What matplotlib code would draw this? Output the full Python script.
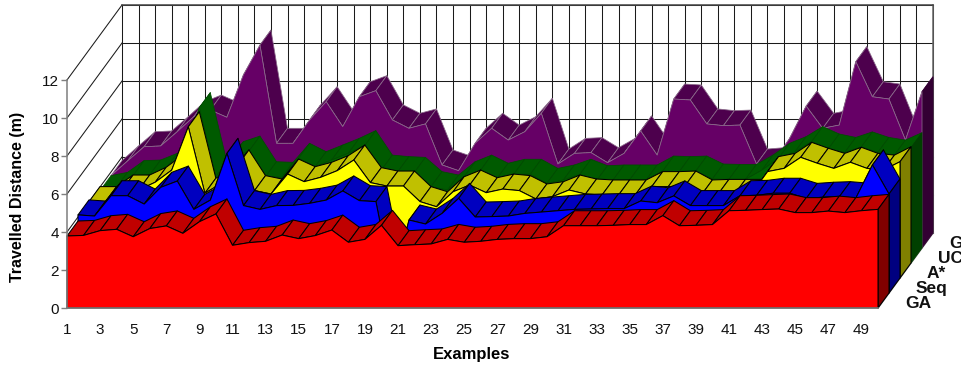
import matplotlib
matplotlib.use("Agg")
import matplotlib.pyplot as plt
import numpy as np

plt.rcParams['font.family'] = ['Liberation Sans', 'DejaVu Sans']

examples = list(range(1, 51))
ga = [3.79,3.82,4.07,4.14,3.75,4.18,4.32,3.93,4.54,4.95,3.30,3.44,3.51,3.84,3.65,3.81,4.10,3.46,3.61,4.35,
      3.28,3.33,3.37,3.61,3.46,3.51,3.61,3.65,3.65,3.75,4.33,4.33,4.33,4.35,4.39,4.39,4.86,4.33,4.35,4.39,
      5.12,5.14,5.18,5.21,5.02,5.02,5.10,5.02,5.12,5.19]
seq = [4.11,4.05,5.12,5.12,4.68,5.56,5.89,4.40,4.89,7.35,4.60,4.40,4.60,4.61,4.72,4.89,5.37,4.86,4.81,0.40,
       3.84,3.63,4.19,4.98,4.00,4.02,4.05,4.19,4.26,4.33,4.40,4.42,4.44,4.44,4.84,4.75,5.11,4.60,4.60,4.60,
       5.12,5.14,5.25,5.25,4.98,5.04,5.07,5.00,6.74,5.21]
astar = [4.02,4.02,4.63,4.63,5.04,5.68,7.96,4.46,4.98,5.95,4.60,4.42,5.47,5.07,5.30,5.65,6.21,5.02,4.84,4.84,
         4.02,3.75,4.54,4.89,4.49,4.68,4.60,4.16,4.28,4.63,4.42,4.37,4.37,4.37,4.81,4.81,4.84,4.37,4.40,4.40,
         4.40,5.60,5.77,6.35,6.04,5.77,6.09,5.77,5.68,6.12]
ucs = [3.81,3.98,4.60,4.63,4.98,5.16,8.18,4.54,5.60,5.89,4.54,4.51,5.51,5.07,5.42,5.77,6.18,4.89,4.81,4.77,
       4.02,3.84,4.54,4.89,4.46,4.67,4.67,4.19,4.37,4.67,4.33,4.37,4.37,4.37,4.84,4.81,4.84,4.42,4.40,4.40,
       4.89,5.51,5.86,6.39,6.00,5.82,6.11,5.82,5.68,6.07]
greedy = [3.81,4.58,5.33,5.37,6.12,6.91,7.26,6.88,9.11,10.68,5.51,5.51,6.74,7.70,6.39,7.96,8.28,6.74,6.30,6.53,
          4.37,4.07,5.51,6.30,5.68,6.12,7.09,4.42,4.98,5.02,4.49,4.98,6.16,4.89,7.84,7.79,6.53,6.44,6.47,4.42,
          4.49,5.77,7.47,6.30,6.47,9.81,7.96,7.84,5.68,8.23]
series_names = ["GA", "Seq", "A*", "UC", "G"]
series_values = [ga, seq, astar, ucs, greedy]
front_colors = ["#FF0000", "#0000FF", "#FFFF00", "#006400", "#660066"]
top_colors = ["#C00000", "#0000C0", "#C0C000", "#005A00", "#4D004D"]
side_colors = ["#800000", "#000080", "#808000", "#004000", "#330033"]
edge_colors = ["black", "black", "black", "#004D00", "#8a6a8a"]
y_ticks = [0, 2, 4, 6, 8, 10, 12]
x_ticks = list(range(1, 50, 2))

W, H = 961, 367
fig = plt.figure(figsize=(W / 100, H / 100), dpi=100, facecolor="white")
ax = fig.add_axes([67 / W, (H - 308) / H, 811 / W, 228 / H], facecolor="none")
ax.set_xlim(1, 50)
ax.set_ylim(0, 12)

# oblique projection: one depth step in data units
DX = 11 / (811 / 49)
DY = 15 / 19
ND = len(series_values)

def px(x, d):
    return np.asarray(x, float) + np.asarray(d, float) * DX

def py(y, d):
    return np.asarray(y, float) + np.asarray(d, float) * DY

# walls
GRID = "#1a1a1a"
GLW = 0.75
for v in y_ticks:
    ax.plot(px([1, 1], [0, ND]), py([v, v], [0, ND]), color=GRID, lw=GLW, clip_on=False, zorder=1)
    ax.plot(px([1, 50], ND), py([v, v], ND), color=GRID, lw=GLW, clip_on=False, zorder=1)
for e in examples:
    ax.plot(px([e, e], ND), py([0, 12], ND), color=GRID, lw=GLW, clip_on=False, zorder=1)
ax.plot(px([50, 50], ND), py([0, 12], ND), color="#666666", lw=1.1, clip_on=False, zorder=1)
ax.plot(px([1, 50], ND), py([12, 12], ND), color="#444444", lw=1.1, clip_on=False, zorder=1)
ax.plot(px([50, 50], [0, ND]), py([0, 0], [0, ND]), color="#777777", lw=1.1, clip_on=False, zorder=1)

# series, back to front
z = 2
for d in range(ND - 1, -1, -1):
    vals = np.array(series_values[d], float)
    xs = np.array(examples, float)
    lw = 0.75 if d < 3 else 0.55
    for i in range(len(xs) - 1):
        qx = [px(xs[i], d), px(xs[i + 1], d), px(xs[i + 1], d + 1), px(xs[i], d + 1)]
        qy = [py(vals[i], d), py(vals[i + 1], d), py(vals[i + 1], d + 1), py(vals[i], d + 1)]
        ax.fill(qx, qy, facecolor=top_colors[d], edgecolor=edge_colors[d], lw=lw,
                joinstyle="round", clip_on=False, zorder=z)
        z += 1
    ax.fill([px(50, d), px(50, d + 1), px(50, d + 1), px(50, d)],
            [py(0, d), py(0, d + 1), py(vals[-1], d + 1), py(vals[-1], d)],
            facecolor=side_colors[d], edgecolor="black" if d < 3 else side_colors[d], lw=lw,
            clip_on=False, zorder=z)
    z += 1
    fx = np.concatenate([[xs[0]], xs, [xs[-1]]])
    fy = np.concatenate([[0], vals, [0]])
    ax.fill(px(fx, d), py(fy, d), facecolor=front_colors[d],
            edgecolor="black" if d < 3 else edge_colors[d], lw=lw, joinstyle="round",
            clip_on=False, zorder=z)
    z += 1

# axes
for s in ("top", "right"):
    ax.spines[s].set_visible(False)
for s in ("left", "bottom"):
    ax.spines[s].set_color("#7f7f7f")
    ax.spines[s].set_linewidth(1.1)
    ax.spines[s].set_zorder(z + 1)
ax.set_yticks(y_ticks)
ax.set_xticks(x_ticks)
ax.tick_params(axis="y", length=4, width=1, color="#7f7f7f", labelsize=11, pad=2, labelcolor="#111111")
ax.tick_params(axis="x", length=0, labelsize=11, pad=10.5, labelcolor="#111111")
ax.set_ylabel("Travelled Distance (m)", fontsize=11.5, fontweight="bold", labelpad=0)
ax.yaxis.set_label_coords((25 - 67) / 811, (308 - 197) / 228)
ax.set_xlabel("Examples", fontsize=12, fontweight="bold")
ax.xaxis.set_label_coords((472 - 67) / 811, -(355 - 308) / 228)
ax.xaxis.label.set_va("center")

for d, name in enumerate(series_names):
    ax.text(px(50, d) + 1.62, py(0.23, d), name, fontsize=12.5, fontweight="bold",
            ha="left", va="center", clip_on=False, color="#111111")

fig.savefig("out.png", dpi=100)
